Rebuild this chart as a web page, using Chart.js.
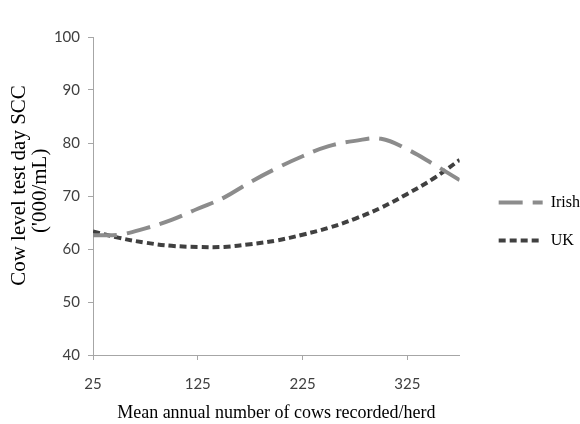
<!DOCTYPE html>
<html>
<head>
<meta charset="utf-8">
<script src="https://cdn.jsdelivr.net/npm/chart.js@4.4.1/dist/chart.umd.min.js"></script>
<style>
  html, body { margin: 0; padding: 0; background: #fff; }
</style>
</head>
<body>
<canvas id="sccChart" width="580" height="424"></canvas>
<script>
// Herd size (x) and fitted SCC curves
const herdSizes = [25, 50, 75, 100, 125, 150, 175, 200, 225, 250, 275, 300, 325, 350, 375];
const irishScc = [62.6, 62.7, 63.9, 65.5, 67.6, 69.7, 72.6, 75.2, 77.5, 79.4, 80.4, 80.8, 78.8, 76.0, 73.0];
const ukScc = [63.3, 62.1, 61.2, 60.6, 60.4, 60.4, 60.9, 61.6, 62.7, 64.0, 65.7, 67.8, 70.4, 73.3, 76.8];
const xTicks = [25, 125, 225, 325];
const yTicks = [40, 50, 60, 70, 80, 90, 100];

const axisGrey = '#a6a6a6';
const tickFont = { family: 'Lato', size: 15 };
const serif = 'Liberation Serif';
const nb = '\u00a0';

function toPoints(values) {
    return herdSizes.map((x, i) => ({ x: x, y: values[i] }));
}

// nudge the legend away from the plot, like the original layout
const legendNudge = {
    id: 'legendNudge',
    afterLayout(chart) {
        const lg = chart.legend;
        lg.left += 17;
        lg.right += 17;
        lg.top -= 9;
        lg.bottom -= 9;
    }
};

const ctx = document.getElementById('sccChart').getContext('2d');
new Chart(ctx, {
    type: 'line',
    data: {
        datasets: [
            {
                label: 'Irish',
                data: toPoints(irishScc),
                borderColor: '#8c8c8c',
                backgroundColor: '#8c8c8c',
                borderWidth: 4,
                borderDash: [24, 10],
                borderDashOffset: 0,
                pointRadius: 0,
                tension: 0.4,
                fill: false
            },
            {
                label: 'UK',
                data: toPoints(ukScc),
                borderColor: '#404040',
                backgroundColor: '#404040',
                borderWidth: 4,
                borderDash: [7, 4],
                borderDashOffset: 0,
                pointRadius: 0,
                tension: 0.4,
                fill: false
            }
        ]
    },
    options: {
        responsive: false,
        animation: false,
        devicePixelRatio: 1,
        layout: {
            padding: { top: 37, right: 7, bottom: 0, left: 0 }
        },
        scales: {
            x: {
                type: 'linear',
                min: 25,
                max: 375,
                afterBuildTicks: s => { s.ticks = xTicks.map(v => ({ value: v })); },
                afterFit: s => { s.height = 69; },
                grid: { drawOnChartArea: false, drawTicks: true, tickLength: 5, color: axisGrey },
                border: { display: true, color: axisGrey },
                ticks: { font: tickFont, color: '#404040', padding: 15, maxRotation: 0, autoSkip: false },
                title: {
                    display: true,
                    text: 'Mean annual number of cows recorded/herd',
                    color: '#000',
                    font: { family: serif, size: 18, lineHeight: 1.2 },
                    padding: { top: 4, bottom: 0 }
                }
            },
            y: {
                min: 40,
                max: 100,
                afterBuildTicks: s => { s.ticks = yTicks.map(v => ({ value: v })); },
                afterFit: s => { s.width = 93; },
                grid: { drawOnChartArea: false, drawTicks: true, tickLength: 5, color: axisGrey },
                border: { display: true, color: axisGrey },
                ticks: { font: tickFont, color: '#404040', padding: 8 },
                title: {
                    display: true,
                    text: [nb.repeat(4) + 'Cow level test day SCC', nb.repeat(2) + "('000/mL)"],
                    color: '#000',
                    font: { family: serif, size: 21, lineHeight: 1 },
                    padding: { top: 9, bottom: 0 }
                }
            }
        },
        plugins: {
            legend: {
                position: 'right',
                maxWidth: 121,
                labels: {
                    usePointStyle: true,
                    pointStyle: 'line',
                    pointStyleWidth: 44,
                    padding: 22,
                    color: '#000',
                    font: { family: serif, size: 16 },
                    generateLabels: chart => chart.data.datasets.map((ds, i) => ({
                        text: ds.label,
                        datasetIndex: i,
                        hidden: false,
                        pointStyle: 'line',
                        fillStyle: ds.borderColor,
                        strokeStyle: ds.borderColor,
                        lineWidth: ds.borderWidth,
                        lineDash: ds.borderDash,
                        lineDashOffset: ds.borderDashOffset,
                        lineCap: 'butt',
                        fontColor: '#000'
                    }))
                }
            },
            tooltip: { enabled: false }
        }
    },
    plugins: [legendNudge]
});
</script>
</body>
</html>
